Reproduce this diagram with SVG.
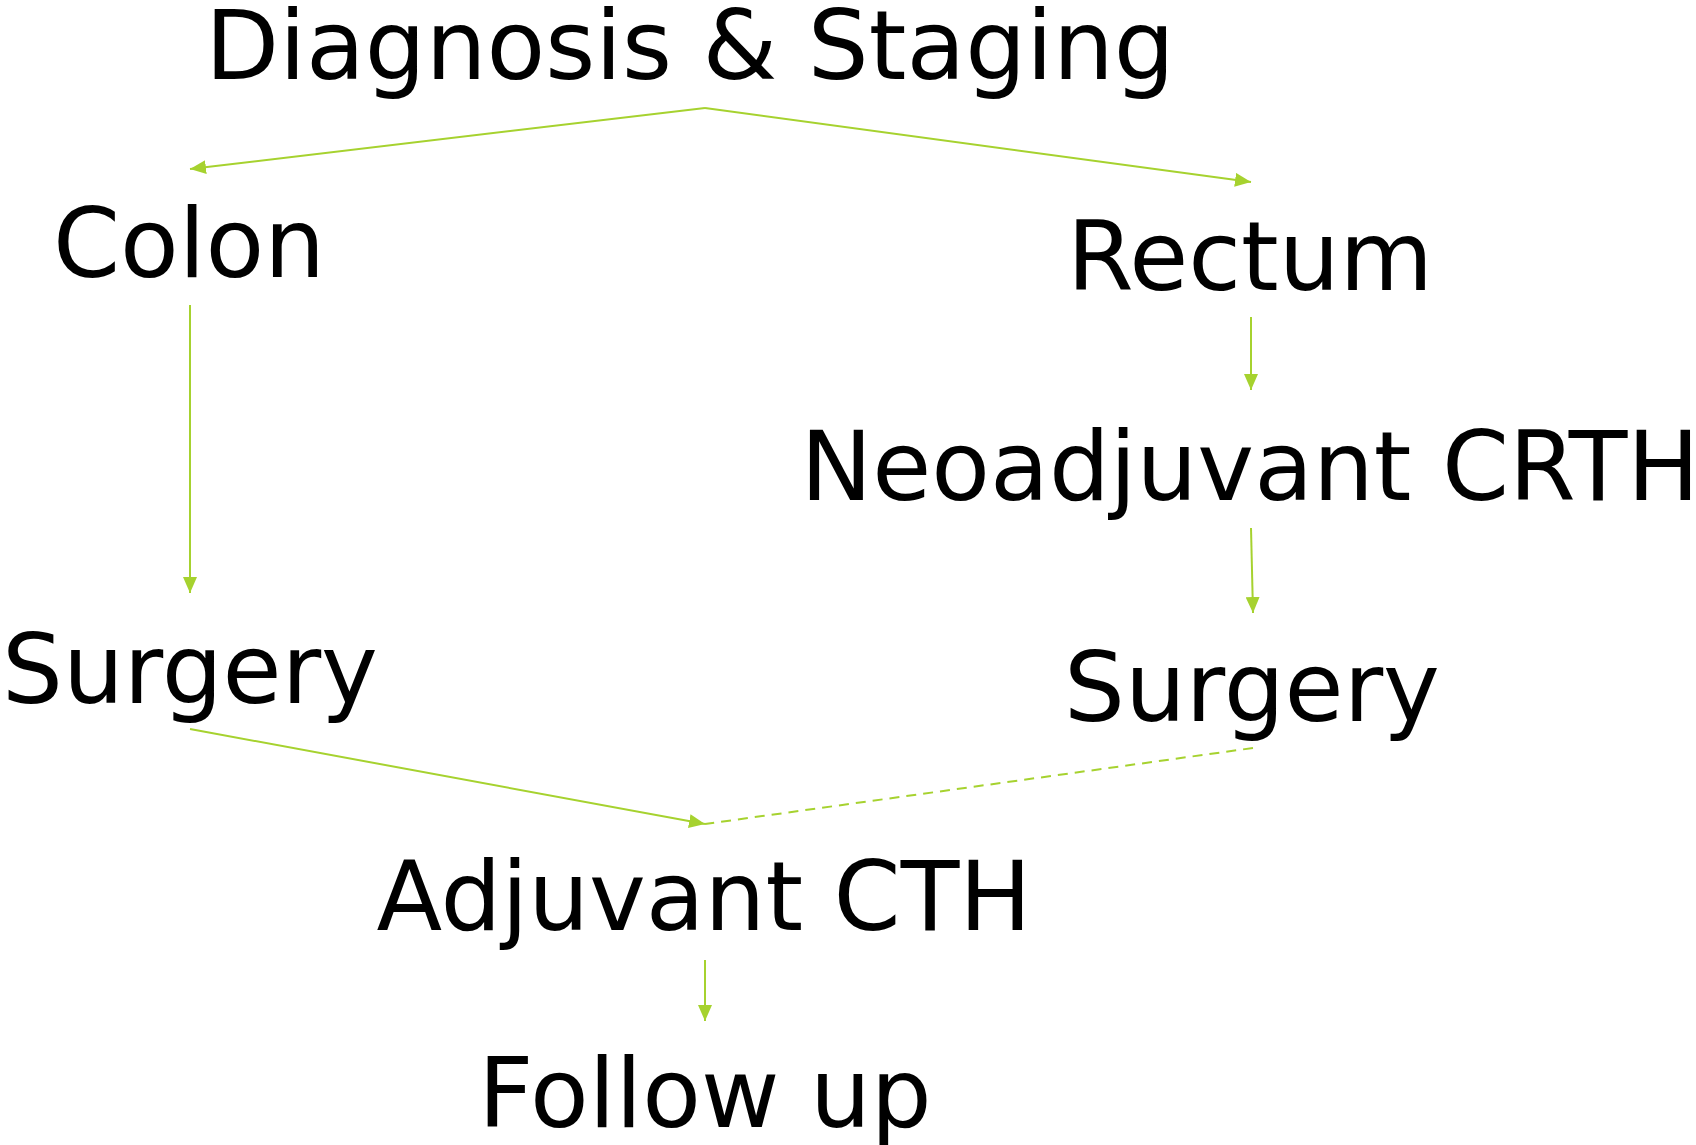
<svg xmlns="http://www.w3.org/2000/svg" width="1696" height="1145" viewBox="0 0 1696 1145">
<style>
.t{font-family:"DejaVu Sans",sans-serif;font-size:96px;fill:#000;text-anchor:middle}
.c{stroke:#a6d22f;stroke-width:2;fill:none}
.d{stroke-dasharray:10,7}
</style>
<defs>
<marker id="a" viewBox="0 0 16 14" refX="16" refY="7" markerWidth="16" markerHeight="14" markerUnits="userSpaceOnUse" orient="auto">
<path d="M0,0 L16,7 L0,14 Z" fill="#a6d22f"/>
</marker>
</defs>
<rect width="1696" height="1145" fill="#fff"/>
<g id="connectors">
<line class="c" x1="705" y1="108" x2="190" y2="169" marker-end="url(#a)"/>
<line class="c" x1="705" y1="108" x2="1251" y2="182" marker-end="url(#a)"/>
<line class="c" x1="190" y1="305" x2="190" y2="593" marker-end="url(#a)"/>
<line class="c" x1="1251" y1="317" x2="1251" y2="390" marker-end="url(#a)"/>
<line class="c" x1="1251" y1="528" x2="1253" y2="613" marker-end="url(#a)"/>
<line class="c" x1="190" y1="729" x2="705" y2="824" marker-end="url(#a)"/>
<line class="c d" x1="1253" y1="748" x2="705" y2="824"/>
<line class="c" x1="705" y1="960" x2="705" y2="1021" marker-end="url(#a)"/>
</g>
<g id="diagnosis"><text class="t" x="690" y="79">Diagnosis &amp; Staging</text></g>
<g id="colon"><text class="t" x="189" y="277">Colon</text></g>
<g id="rectum"><text class="t" x="1250" y="290">Rectum</text></g>
<g id="neoadjuvant"><text class="t" x="1250" y="500">Neoadjuvant CRTH</text></g>
<g id="surgery-left"><text class="t" x="190" y="703">Surgery</text></g>
<g id="surgery-right"><text class="t" x="1252" y="721">Surgery</text></g>
<g id="adjuvant"><text class="t" x="704" y="930">Adjuvant CTH</text></g>
<g id="followup"><text class="t" x="705" y="1127">Follow up</text></g>
</svg>
